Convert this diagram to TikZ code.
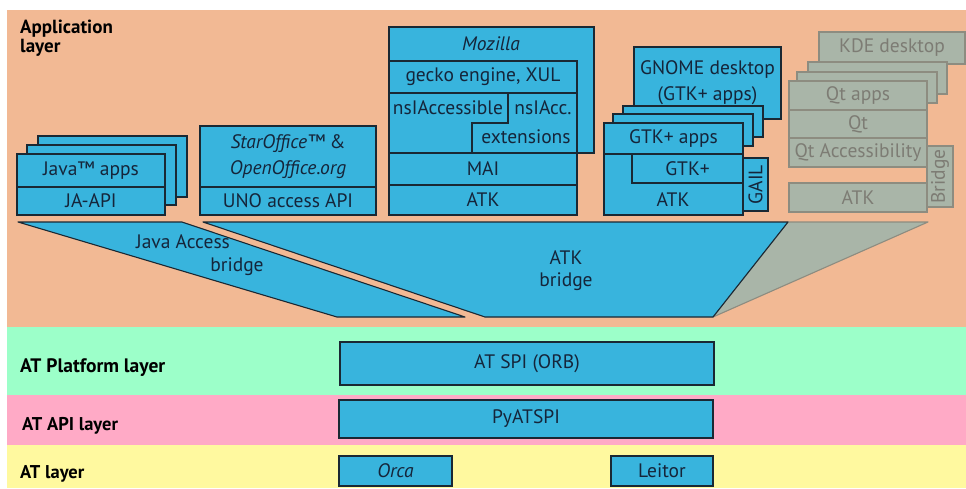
\documentclass[tikz,border=0pt]{standalone}
\usepackage{fontspec}
\setmainfont{PT Sans}
\definecolor{bgOr}{HTML}{F2B994}
\definecolor{bgGr}{HTML}{9CFFC9}
\definecolor{bgPk}{HTML}{FFAAC6}
\definecolor{bgYe}{HTML}{FFF99F}
\definecolor{blueC}{HTML}{38B4DD}
\definecolor{lineC}{HTML}{1A2833}
\definecolor{textC}{HTML}{15253A}
\definecolor{grayF}{HTML}{A9B5A8}
\definecolor{grayL}{HTML}{8D8C80}
\definecolor{grayT}{HTML}{7D7C74}
\newcommand\boxfont{\fontsize{19.5}{26}\selectfont}
\tikzset{
  box/.style={draw=lineC, fill=blueC, line width=1.1pt, inner sep=0pt, outer sep=0pt,
    anchor=north west, text=textC, font=\boxfont, align=center},
  gbox/.style={box, draw=grayL, fill=grayF, text=grayT},
  lbl/.style={inner sep=0pt, text=textC, font=\boxfont, align=center},
  glbl/.style={lbl, text=grayT},
  layerlbl/.style={inner sep=0pt, anchor=base west, font=\bfseries\fontsize{19}{20}\selectfont, text=black},
  band/.style={draw=none, inner sep=0pt, outer sep=0pt, anchor=north west},
  bridgeshape/.style={draw=lineC, fill=blueC, line width=1.1pt, line join=round},
}
\begin{document}
\begin{tikzpicture}[x=1pt,y=-1pt]
\useasboundingbox (0,0) rectangle (966,488);
\fill[white] (0,0) rectangle (966,488);
% layer bands
\node[band, fill=bgOr, minimum width=959pt, minimum height=317pt] (appband) at (7,10) {};
\node[band, fill=bgGr, minimum width=959pt, minimum height=68pt] (platband) at (7,327) {};
\node[band, fill=bgPk, minimum width=959pt, minimum height=50pt] (apiband) at (7,395) {};
\node[band, fill=bgYe, minimum width=959pt, minimum height=43pt] (atband) at (7,445) {};
% layer labels
\node[layerlbl] (applbl1) at (20,33) {Application};
\node[layerlbl] (applbl2) at (20,52) {layer};
\node[layerlbl, font=\bfseries\fontsize{19.5}{20}\selectfont] (platlbl) at (20,372) {AT Platform layer};
\node[layerlbl, font=\bfseries\fontsize{18.5}{20}\selectfont] (apilbl) at (22,430) {AT API layer};
\node[layerlbl, font=\bfseries\fontsize{18.5}{20}\selectfont] (atlbl) at (20,478) {AT layer};
% Java stack
\node[box, minimum width=149pt, minimum height=61pt] (java3) at (38,136) {};
\node[box, minimum width=149pt, minimum height=60pt] (java2) at (27,145) {};
\node[box, minimum width=148pt, minimum height=33pt] (javaapps) at (17,154) {Java™ apps};
\node[box, minimum width=148pt, minimum height=28pt] (jaapi) at (17,187) {JA-API};
% StarOffice
\node[box, minimum width=176pt, minimum height=61pt] (staroff) at (200,126) {\itshape StarOffice™ \upshape\&\\\itshape OpenOffice.org};
\node[box, minimum width=176pt, minimum height=28pt] (uno) at (200,187) {UNO access API};
% Mozilla
\node[box, minimum width=205pt, minimum height=126pt] (moz) at (389,27) {};
\node[lbl] (mozlbl) at (491,44) {\itshape Mozilla};
\node[box, minimum width=188pt, minimum height=32pt] (gecko) at (389,61) {gecko engine, XUL};
\filldraw[bridgeshape, line join=miter] (389,93) -- (508,93) -- (508,123) -- (472,123) -- (472,153) -- (389,153) -- cycle;
\filldraw[bridgeshape, line join=miter] (508,93) -- (577,93) -- (577,153) -- (472,153) -- (472,123) -- (508,123) -- cycle;
\node[lbl] (nsiacc) at (448,108) {nsIAccessible};
\node[lbl] (nsiext1) at (543,108) {nsIAcc.};
\node[lbl] (nsiext2) at (526,137) {extensions};
\node[box, minimum width=188pt, minimum height=32pt] (mai) at (389,153) {MAI};
\node[box, minimum width=188pt, minimum height=30pt] (mozatk) at (389,185) {ATK};
% GNOME
\node[box, minimum width=147pt, minimum height=72pt] (gnome) at (634,47) {GNOME desktop\\(GTK+ apps)};
\node[box, minimum width=140pt, minimum height=31pt] (gtk3) at (623,106) {};
\node[box, minimum width=140pt, minimum height=32pt] (gtk2) at (613,114) {};
\node[box, minimum width=139pt, minimum height=31pt] (gtkapps) at (604,123) {GTK+ apps};
\node[box, minimum width=139pt, minimum height=61pt] (gtkbase) at (604,154) {};
\node[box, minimum width=111pt, minimum height=29pt] (gtkplus) at (632,154) {GTK+};
\node[lbl] (gtkatk) at (673,200) {ATK};
\node[box, minimum width=25pt, minimum height=53pt] (gail) at (743,158) {};
\node[lbl, rotate=90] (gaillbl) at (gail.center) {GAIL};
% KDE
\node[gbox, minimum width=146pt, minimum height=32pt] (kde) at (819,32) {KDE desktop};
\node[gbox, minimum width=139pt, minimum height=32pt] (qt3) at (808,62) {};
\node[gbox, minimum width=140pt, minimum height=31pt] (qt2) at (797,72) {};
\node[gbox, minimum width=138pt, minimum height=29pt] (qtapps) at (789,81) {Qt apps};
\node[gbox, minimum width=138pt, minimum height=28pt] (qt) at (789,110) {Qt};
\node[gbox, minimum width=138pt, minimum height=29pt] (qtacc) at (789,138) {Qt Accessibility};
\node[gbox, minimum width=26pt, minimum height=61pt] (qbridge) at (927,146) {};
\node[glbl, rotate=90] (qbridgelbl) at (qbridge.center) {Bridge};
\node[gbox, minimum width=138pt, minimum height=29pt] (qatk) at (789,183) {ATK};
% bridges
\filldraw[bridgeshape] (18,222) -- (182,222) -- (465,317) -- (337,317) -- cycle;
\filldraw[draw=grayL, fill=grayF, line width=1.1pt, line join=round] (788,222) -- (928,222) -- (713,317) -- cycle;
\filldraw[bridgeshape] (203,222) -- (788,222) -- (713,317) -- (485,317) -- cycle;
\node[lbl] (jab1) at (183,242) {Java Access};
\node[lbl] (jab2) at (237,267) {bridge};
\node[lbl] (atkb1) at (566,258) {ATK};
\node[lbl] (atkb2) at (566,282) {bridge};
% AT layers
\node[box, minimum width=374pt, minimum height=43pt] (atspi) at (340,342) {AT SPI (ORB)};
\node[box, minimum width=374pt, minimum height=38pt] (pyatspi) at (339,400) {PyATSPI};
\node[box, minimum width=113pt, minimum height=30pt] (orca) at (339,456) {\itshape Orca};
\node[box, minimum width=102pt, minimum height=30pt] (leitor) at (611,456) {Leitor};
\end{tikzpicture}
\end{document}
